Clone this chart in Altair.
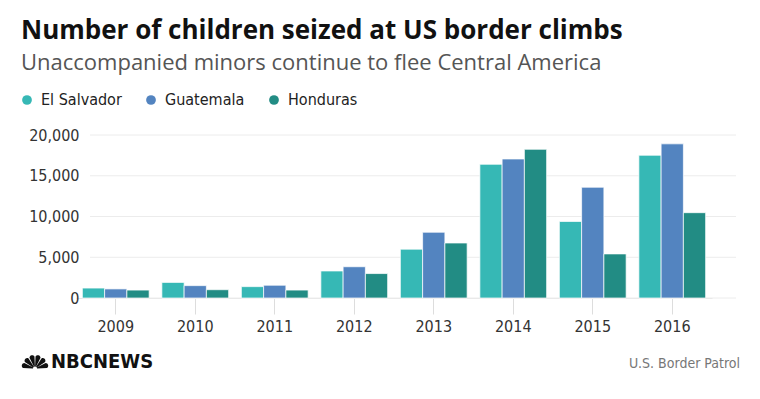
import math
import altair as alt
import pandas as pd

years = ["2009", "2010", "2011", "2012", "2013", "2014", "2015", "2016"]
countries = ["El Salvador", "Guatemala", "Honduras"]
el_salvador = [1221, 1910, 1394, 3314, 5990, 16404, 9389, 17512]
guatemala = [1115, 1517, 1565, 3835, 8068, 17057, 13589, 18913]
honduras = [968, 1017, 974, 2997, 6747, 18244, 5409, 10468]
y_ticks = [0, 5000, 10000, 15000, 20000]
colors = ["#36b8b5", "#5384c0", "#228c84"]

title_text = "Number of children seized at US border climbs"
subtitle_text = "Unaccompanied minors continue to flee Central America"
source_text = "U.S. Border Patrol"
brand_text = "NBCNEWS"

COND = "Liberation Sans Narrow, DejaVu Sans Condensed, Roboto, sans-serif"
MAIN = "Open Sans, Lato, Roboto, sans-serif"

rows = []
for i, yr in enumerate(years):
    for c, vals in zip(countries, [el_salvador, guatemala, honduras]):
        rows.append({"year": yr, "country": c, "value": vals[i]})
df = pd.DataFrame(rows)
grid_df = pd.DataFrame({"v": y_ticks})

yscale = alt.Scale(domain=[0, 20000], nice=False)
yaxis = alt.Axis(
    title=None,
    values=y_ticks,
    format=",",
    labelExpr="format(datum.value, ',')",
    grid=False,
    ticks=False,
    domain=False,
    labelPadding=0,
    offset=-3,
    labelFontSize=16,
    labelColor="#333333",
    labelFont=COND,
)


def peacock_path():
    cx, cy = 0.0, 0.5
    n = 6
    span = 180.0 / n
    r_in, r_out = 0.14, 0.80
    parts = []
    for i in range(n):
        a0 = math.radians(180 - i * span - 2.5)
        a1 = math.radians(180 - (i + 1) * span + 2.5)
        def p(r, a):
            return (cx + r * math.cos(a), cy - r * math.sin(a))
        x0, y0 = p(r_in, a0)
        x1, y1 = p(r_out, a0)
        x2, y2 = p(r_out, a1)
        x3, y3 = p(r_in, a1)
        w = r_out * math.sin((a0 - a1) / 2) * 1.05
        parts.append(
            f"M{x0:.3f},{y0:.3f}L{x1:.3f},{y1:.3f}A{w:.3f},{w:.3f} 0 0 1 {x2:.3f},{y2:.3f}L{x3:.3f},{y3:.3f}Z"
        )
    return "".join(parts)


grid = alt.Chart(grid_df).mark_rule(color="#ececec", strokeWidth=1).encode(
    y=alt.Y("v:Q", scale=yscale, axis=yaxis),
    x=alt.value(14),
    x2=alt.value(660),
)

bars = alt.Chart(df).mark_bar(stroke="#ffffff", strokeWidth=1, strokeOpacity=0.7).encode(
    x=alt.X(
        "year:N",
        sort=years,
        scale=alt.Scale(paddingInner=0.16, paddingOuter=0.08),
        axis=alt.Axis(
            title=None,
            labelAngle=0,
            tickColor="#dddddd",
            tickSize=16,
            domainColor="#e6e6e6",
            labelFontSize=16,
            labelColor="#333333",
            labelPadding=4,
            labelFont=COND,
        ),
    ),
    xOffset=alt.XOffset("country:N", sort=countries, scale=alt.Scale(paddingInner=0)),
    y=alt.Y("value:Q", scale=yscale, axis=yaxis),
    color=alt.Color(
        "country:N",
        sort=countries,
        scale=alt.Scale(domain=countries, range=colors),
        legend=alt.Legend(
            title=None,
            orient="none",
            legendX=-57,
            legendY=-43,
            direction="horizontal",
            symbolType="circle",
            symbolSize=95,
            symbolStrokeWidth=0,
            labelFontSize=16,
            labelFont=COND,
            labelColor="#222222",
            labelOffset=6,
            columnPadding=21,
            padding=0,
        ),
    ),
)

footer_src = alt.Chart(pd.DataFrame({"t": [source_text]})).mark_text(
    align="right", baseline="middle", fontSize=14, font=COND, color="#777777"
).encode(text="t:N", x=alt.value(664), y=alt.value(229))

footer_brand = alt.Chart(pd.DataFrame({"t": [brand_text]})).mark_text(
    align="left", baseline="middle", fontSize=20, font=COND, fontWeight="bold", color="#111111"
).encode(text="t:N", x=alt.value(-25), y=alt.value(227))

peacock = alt.Chart(pd.DataFrame({"t": [brand_text]})).mark_point(
    shape=peacock_path(), filled=True, color="#111111", opacity=1, size=900
).encode(x=alt.value(-41), y=alt.value(226))

chart = (
    alt.layer(grid, bars, footer_src, footer_brand, peacock)
    .properties(
        width=636,
        height=163,
        title=alt.TitleParams(
            text=title_text,
            subtitle=subtitle_text,
            anchor="start",
            frame="group",
            dx=-55,
            offset=18,
            font=MAIN,
            fontSize=26,
            fontWeight="bold",
            color="#111111",
            subtitleFont=MAIN,
            subtitleFontSize=22,
            subtitleColor="#555555",
            subtitlePadding=9,
        ),
        autosize=alt.AutoSizeParams(type="none"),
        padding={"left": 68, "top": 127, "right": 40, "bottom": 90},
    )
    .configure_view(stroke=None)
)

chart.save("out.html", embed_options={"renderer": "svg", "actions": False})
